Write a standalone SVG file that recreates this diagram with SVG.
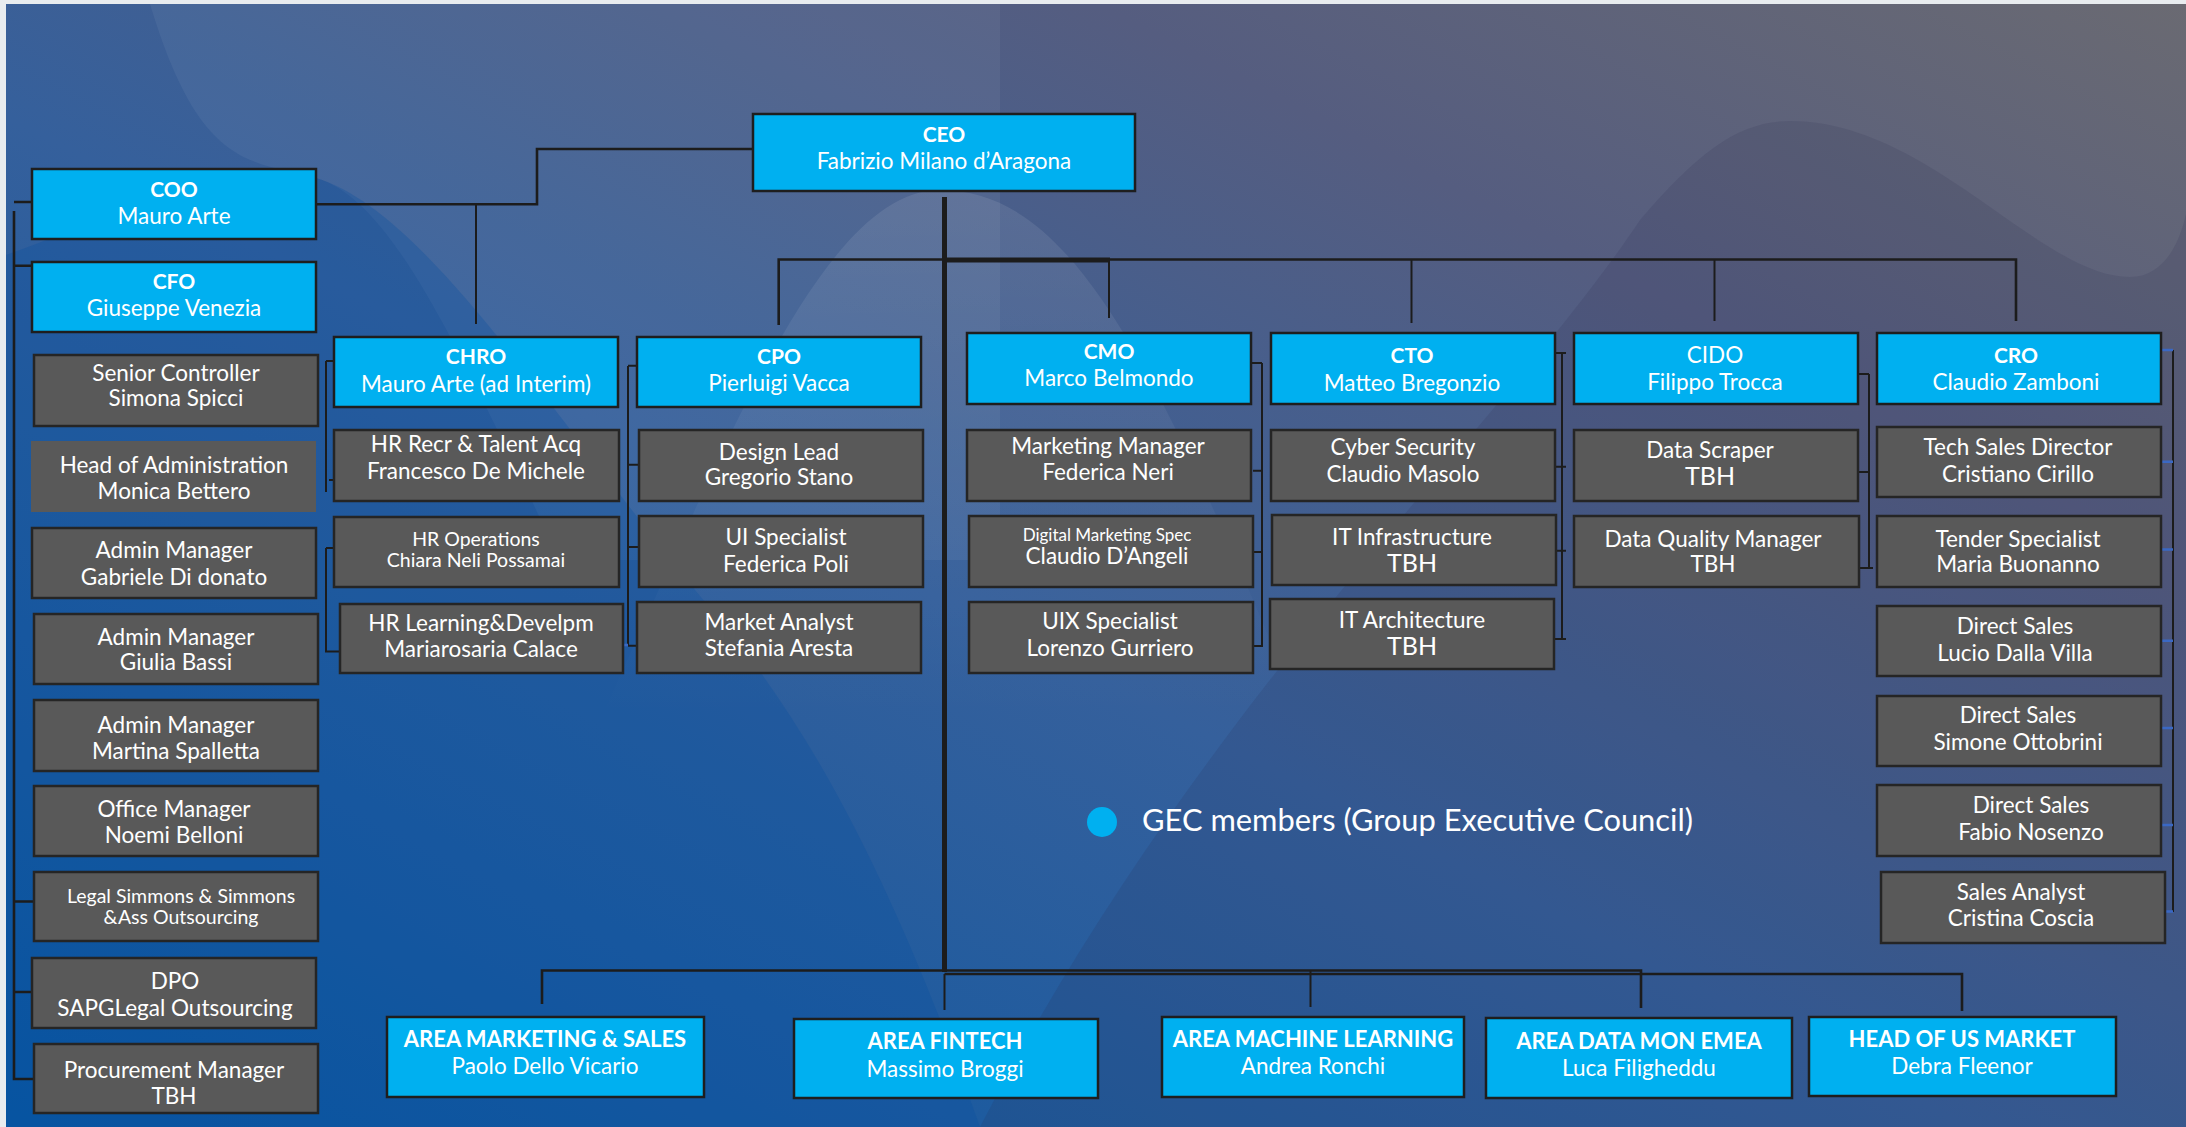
<svg xmlns="http://www.w3.org/2000/svg" width="2186" height="1127" viewBox="0 0 2186 1127">
  <defs>
    <linearGradient id="bg" x1="0" y1="1" x2="1" y2="0">
      <stop offset="0" stop-color="#0656a2"/>
      <stop offset="0.45" stop-color="#35609c"/>
      <stop offset="0.75" stop-color="#555d80"/>
      <stop offset="1" stop-color="#6a6a72"/>
    </linearGradient>
    <linearGradient id="humpFade" x1="0" y1="0" x2="0" y2="1">
      <stop offset="0" stop-color="#ffffff" stop-opacity="0.09"/>
      <stop offset="1" stop-color="#ffffff" stop-opacity="0"/>
    </linearGradient>
    <style>
      .exec { fill: #00b0f0; stroke: #1e1e1e; stroke-width: 2.5; }
      .staff { fill: #595959; stroke: #252525; stroke-width: 2.5; }
      .plain { fill: #595959; }
      text { font-family: Lato, "Liberation Sans", sans-serif; fill: #ffffff; text-anchor: middle; }
      .h { font-size: 21px; font-weight: bold; }
      .hb { font-size: 22px; font-weight: bold; }
      .n { font-size: 22.5px; }
      .s { font-size: 19.5px; }
      .xs { font-size: 17px; }
      .big { font-size: 25px; }
      .ln { fill: none; stroke: #1c1c1c; stroke-width: 2; }
      .lw { fill: none; stroke: #1c1c1c; stroke-width: 2.6; }
      .trunk { fill: none; stroke: #1c1c1c; stroke-width: 5; }
      .tick { fill: none; stroke: #3a68c4; stroke-width: 2.5; }
    </style>
  </defs>

  <!-- page background -->
  <rect x="0" y="0" width="2186" height="1127" fill="#e8ecef"/>
  <rect x="6" y="4" width="2180" height="1123" fill="url(#bg)"/>

  <!-- background waves -->
  <g id="waves">
    <path d="M150,4 L1000,4 L1000,560 L560,560 C450,330 390,200 316,178 C250,160 200,170 150,4 Z" fill="#ffffff" opacity="0.05"/>
    <path d="M6,255 C120,215 230,150 316,178 C430,212 560,430 720,620 C820,740 900,900 980,1127 L6,1127 Z" fill="#0a50a0" opacity="0.3"/>
    <path d="M600,720 C720,460 820,190 940,190 C1060,190 1140,330 1270,640 L1270,720 Z" fill="url(#humpFade)"/>
    <path d="M980,1127 C1200,700 1500,430 1640,220 C1700,150 1740,121 1790,121 C1930,121 2040,277 2130,277 C2160,277 2178,250 2186,214 L2186,1127 Z" fill="#2a2d50" opacity="0.14"/>
  </g>

  <!-- reporting lines -->
  <g id="connectors">
    <!-- CEO to COO / CHRO -->
    <path class="lw" d="M753,149 H537 V204.3 H316"/>
    <path class="ln" d="M476,204 V324"/>
    <!-- COO / CFO staff bus -->
    <path class="lw" d="M14,211 V1079 H34"/>
    <path class="lw" d="M14,202 H32 M14,265.7 H32 M14,901.5 H34 M14,992 H32"/>
    <!-- CEO trunk -->
    <path class="trunk" d="M944.5,197 V972"/>
    <path class="lw" d="M778.7,325 V259.5 H2016 V321"/>
    <path class="trunk" d="M944.5,260 H1110"/>
    <path class="ln" d="M1109,259.5 V318 M1411.5,259.5 V323 M1714.5,259.5 V321"/>
    <!-- bottom areas -->
    <path class="lw" d="M542,1004 V970.5 H1641 V1008"/>
    <path class="lw" d="M944.5,974 H1962 V1011"/>
    <path class="ln" d="M944.5,974 V1010 M1310.5,971 V1007"/>
    <!-- CHRO reports -->
    <path class="ln" d="M326,361 V492 M326,361 H334 M329,480 H334"/>
    <path class="ln" d="M326,548 V651.5 H340 M326,548 H334"/>
    <!-- CPO reports -->
    <path class="ln" d="M628,366 V646 M628,365.7 H637 M628,464.7 H639 M628,547 H639 M628,645.7 H637"/>
    <path class="tick" d="M623,645 H628"/>
    <!-- CMO reports -->
    <path class="ln" d="M1262,363 V647 M1251,363 H1262 M1253,470.7 H1262 M1253,552 H1262 M1253,646 H1262"/>
    <!-- CTO reports -->
    <path class="ln" d="M1562,353 V640 M1555,353 H1566 M1555,466.7 H1566 M1556,550.7 H1566 M1554,639 H1566"/>
    <!-- CIDO reports -->
    <path class="ln" d="M1869,374 V568 M1857,374 H1869 M1858,472 H1869 M1854,568 H1873"/>
    <!-- CRO reports -->
    <path class="ln" d="M2173,350 V912"/>
    <path class="tick" d="M2160,350 H2173 M2160,461.7 H2173 M2160,549.6 H2173 M2160,640.8 H2173 M2160,728 H2173 M2160,825 H2173 M2165,911.5 H2173"/>
  </g>

  <!-- top management -->
  <g id="ceo"><rect class="exec" x="753" y="114" width="382" height="77"/>
    <text class="h" x="944" y="141.7">CEO</text><text class="n" x="944" y="169.3">Fabrizio Milano d’Aragona</text></g>
  <g id="coo"><rect class="exec" x="32" y="169" width="284" height="70"/>
    <text class="h" x="174" y="196.8">COO</text><text class="n" x="174" y="224.3">Mauro Arte</text></g>
  <g id="cfo"><rect class="exec" x="32" y="262" width="284" height="70"/>
    <text class="h" x="174" y="288.6">CFO</text><text class="n" x="174" y="316">Giuseppe Venezia</text></g>

  <!-- CFO staff -->
  <g id="senior-controller"><rect class="staff" x="34" y="355" width="284" height="71"/>
    <text class="n" x="176" y="380.7">Senior Controller</text><text class="n" x="176" y="406">Simona Spicci</text></g>
  <g id="head-administration"><rect class="plain" x="31" y="441" width="285" height="71"/>
    <text class="n" x="174" y="473">Head of Administration</text><text class="n" x="174" y="498.8">Monica Bettero</text></g>
  <g id="admin-gabriele"><rect class="staff" x="32" y="528" width="284" height="70"/>
    <text class="n" x="174" y="557.6">Admin Manager</text><text class="n" x="174" y="584.7">Gabriele Di donato</text></g>
  <g id="admin-giulia"><rect class="staff" x="34" y="614" width="284" height="70"/>
    <text class="n" x="176" y="645">Admin Manager</text><text class="n" x="176" y="670">Giulia Bassi</text></g>
  <g id="admin-martina"><rect class="staff" x="34" y="700" width="284" height="71"/>
    <text class="n" x="176" y="733">Admin Manager</text><text class="n" x="176" y="758.6">Martina Spalletta</text></g>
  <g id="office-manager"><rect class="staff" x="34" y="786" width="284" height="70"/>
    <text class="n" x="174" y="817.4">Office Manager</text><text class="n" x="174" y="842.5">Noemi Belloni</text></g>
  <g id="legal"><rect class="staff" x="34" y="872" width="284" height="69"/>
    <text class="s" x="181" y="902.8">Legal Simmons &amp; Simmons</text><text class="s" x="181" y="924.4">&amp;Ass Outsourcing</text></g>
  <g id="dpo"><rect class="staff" x="32" y="958" width="284" height="70"/>
    <text class="n" x="175" y="989">DPO</text><text class="n" x="175" y="1016.4">SAPGLegal Outsourcing</text></g>
  <g id="procurement"><rect class="staff" x="34" y="1044" width="284" height="69"/>
    <text class="n" x="174" y="1077.7">Procurement Manager</text><text class="n" x="174" y="1104.3">TBH</text></g>

  <!-- CHRO -->
  <g id="chro"><rect class="exec" x="334" y="337" width="284" height="70"/>
    <text class="h" x="476" y="364">CHRO</text><text class="n" x="476" y="391.8">Mauro Arte (ad Interim)</text></g>
  <g id="hr-recruiting"><rect class="staff" x="334" y="430" width="285" height="71"/>
    <text class="n" x="476" y="451.6">HR Recr &amp; Talent Acq</text><text class="n" x="476" y="478.7">Francesco De Michele</text></g>
  <g id="hr-operations"><rect class="staff" x="334" y="517" width="285" height="70"/>
    <text class="s" x="476" y="546">HR Operations</text><text class="s" x="476" y="567">Chiara Neli Possamai</text></g>
  <g id="hr-learning"><rect class="staff" x="340" y="604" width="283" height="69"/>
    <text class="n" x="481" y="630.5">HR Learning&amp;Develpm</text><text class="n" x="481" y="656.6">Mariarosaria Calace</text></g>

  <!-- CPO -->
  <g id="cpo"><rect class="exec" x="637" y="337" width="284" height="70"/>
    <text class="h" x="779" y="364">CPO</text><text class="n" x="779" y="390.7">Pierluigi Vacca</text></g>
  <g id="design-lead"><rect class="staff" x="639" y="430" width="284" height="71"/>
    <text class="n" x="779" y="460">Design Lead</text><text class="n" x="779" y="485.3">Gregorio Stano</text></g>
  <g id="ui-specialist"><rect class="staff" x="639" y="516" width="284" height="71"/>
    <text class="n" x="786" y="545">UI Specialist</text><text class="n" x="786" y="571.7">Federica Poli</text></g>
  <g id="market-analyst"><rect class="staff" x="637" y="602" width="284" height="71"/>
    <text class="n" x="779" y="630">Market Analyst</text><text class="n" x="779" y="656">Stefania Aresta</text></g>

  <!-- CMO -->
  <g id="cmo"><rect class="exec" x="967" y="333" width="284" height="71"/>
    <text class="h" x="1109" y="358.7">CMO</text><text class="n" x="1109" y="386">Marco Belmondo</text></g>
  <g id="marketing-manager"><rect class="staff" x="967" y="430" width="284" height="71"/>
    <text class="n" x="1108" y="454">Marketing Manager</text><text class="n" x="1108" y="480">Federica Neri</text></g>
  <g id="digital-marketing"><rect class="staff" x="969" y="516" width="284" height="71"/>
    <text class="xs" x="1107" y="540.7">Digital Marketing Spec</text><text class="n" x="1107" y="564.3">Claudio D’Angeli</text></g>
  <g id="uix-specialist"><rect class="staff" x="969" y="602" width="284" height="71"/>
    <text class="n" x="1110" y="629.3">UIX Specialist</text><text class="n" x="1110" y="656">Lorenzo Gurriero</text></g>

  <!-- CTO -->
  <g id="cto"><rect class="exec" x="1271" y="333" width="284" height="71"/>
    <text class="h" x="1412" y="363.3">CTO</text><text class="n" x="1412" y="390.7">Matteo Bregonzio</text></g>
  <g id="cyber-security"><rect class="staff" x="1271" y="430" width="284" height="71"/>
    <text class="n" x="1403" y="455">Cyber Security</text><text class="n" x="1403" y="481.7">Claudio Masolo</text></g>
  <g id="it-infrastructure"><rect class="staff" x="1272" y="515" width="284" height="70"/>
    <text class="n" x="1412" y="545">IT Infrastructure</text><text class="big" x="1412" y="571.7">TBH</text></g>
  <g id="it-architecture"><rect class="staff" x="1270" y="599" width="284" height="70"/>
    <text class="n" x="1412" y="628.3">IT Architecture</text><text class="big" x="1412" y="655">TBH</text></g>

  <!-- CIDO -->
  <g id="cido"><rect class="exec" x="1574" y="333" width="284" height="71"/>
    <text class="n" x="1715" y="363">CIDO</text><text class="n" x="1715" y="390.4">Filippo Trocca</text></g>
  <g id="data-scraper"><rect class="staff" x="1574" y="430" width="284" height="71"/>
    <text class="n" x="1710" y="457.5">Data Scraper</text><text class="big" x="1710" y="484.5">TBH</text></g>
  <g id="data-quality"><rect class="staff" x="1574" y="516" width="285" height="71"/>
    <text class="n" x="1713" y="546.7">Data Quality Manager</text><text class="n" x="1713" y="571.6">TBH</text></g>

  <!-- CRO -->
  <g id="cro"><rect class="exec" x="1877" y="333" width="284" height="71"/>
    <text class="h" x="2016" y="363.3">CRO</text><text class="n" x="2016" y="390">Claudio Zamboni</text></g>
  <g id="tech-sales"><rect class="staff" x="1877" y="427" width="284" height="70"/>
    <text class="n" x="2018" y="455">Tech Sales Director</text><text class="n" x="2018" y="481.7">Cristiano Cirillo</text></g>
  <g id="tender-specialist"><rect class="staff" x="1877" y="516" width="284" height="71"/>
    <text class="n" x="2018" y="546.7">Tender Specialist</text><text class="n" x="2018" y="571.6">Maria Buonanno</text></g>
  <g id="direct-sales-lucio"><rect class="staff" x="1877" y="606" width="284" height="70"/>
    <text class="n" x="2015" y="633.7">Direct Sales</text><text class="n" x="2015" y="660.7">Lucio Dalla Villa</text></g>
  <g id="direct-sales-simone"><rect class="staff" x="1877" y="696" width="284" height="70"/>
    <text class="n" x="2018" y="722.9">Direct Sales</text><text class="n" x="2018" y="749.8">Simone Ottobrini</text></g>
  <g id="direct-sales-fabio"><rect class="staff" x="1877" y="785" width="284" height="71"/>
    <text class="n" x="2031" y="812.8">Direct Sales</text><text class="n" x="2031" y="839.8">Fabio Nosenzo</text></g>
  <g id="sales-analyst"><rect class="staff" x="1881" y="872" width="284" height="71"/>
    <text class="n" x="2021" y="899.9">Sales Analyst</text><text class="n" x="2021" y="926">Cristina Coscia</text></g>

  <!-- business areas -->
  <g id="area-marketing-sales"><rect class="exec" x="387" y="1017" width="317" height="80"/>
    <text class="hb" x="545" y="1047">AREA MARKETING &amp; SALES</text><text class="n" x="545" y="1074">Paolo Dello Vicario</text></g>
  <g id="area-fintech"><rect class="exec" x="794" y="1019" width="304" height="79"/>
    <text class="hb" x="945" y="1049">AREA FINTECH</text><text class="n" x="945" y="1076.7">Massimo Broggi</text></g>
  <g id="area-machine-learning"><rect class="exec" x="1162" y="1017" width="302" height="80"/>
    <text class="hb" x="1313" y="1046.7">AREA MACHINE LEARNING</text><text class="n" x="1313" y="1074">Andrea Ronchi</text></g>
  <g id="area-data-mon"><rect class="exec" x="1486" y="1018" width="306" height="80"/>
    <text class="hb" x="1639" y="1049">AREA DATA MON EMEA</text><text class="n" x="1639" y="1076">Luca Filigheddu</text></g>
  <g id="head-us-market"><rect class="exec" x="1809" y="1017" width="307" height="79"/>
    <text class="hb" x="1962" y="1046.7">HEAD OF US MARKET</text><text class="n" x="1962" y="1074">Debra Fleenor</text></g>

  <!-- legend -->
  <g id="legend">
    <circle cx="1102" cy="822" r="15" fill="#00b0f0"/>
    <text x="1142" y="831" font-size="30" textLength="551" lengthAdjust="spacingAndGlyphs" style="text-anchor:start">GEC members (Group Executive Council)</text>
  </g>
</svg>
